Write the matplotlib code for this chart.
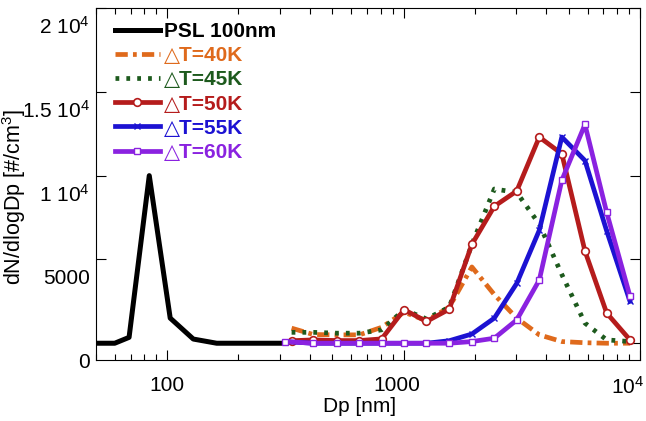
import matplotlib
matplotlib.use("Agg")
import matplotlib.pyplot as plt
from matplotlib.transforms import ScaledTranslation

plt.rcParams['font.family'] = ['Liberation Sans', 'DejaVu Sans']
plt.rcParams['mathtext.fontset'] = 'custom'
plt.rcParams['mathtext.rm'] = 'Liberation Sans'
plt.rcParams['mathtext.default'] = 'regular'

# PSL 100 nm calibration
dp_psl = [50, 60, 69, 84, 103, 129, 162, 200, 250, 315]
n_psl = [0, 0, 350, 10000, 1500, 250, 0, 0, 0, 0]

# size bins of the delta T scans
dp_hi = [415, 521, 650, 808, 1005, 1250, 1560, 1945, 2420, 3010, 3750, 4670, 5850, 7230, 9070]
dp_a = [336] + dp_hi
dp_b = [315] + dp_hi

n_40 = [900, 520, 500, 500, 950, 1850, 1350, 2150, 4550, 2900, 1500, 500, 100, 30, 0, 0]
n_45 = [650, 650, 600, 600, 800, 2000, 1450, 2150, 5900, 9200, 9000, 7100, 4100, 1200, 200, 100]
n_50 = [150, 200, 160, 160, 260, 2000, 1300, 2030, 5900, 8170, 9080, 12300, 11300, 5500, 1800, 200]
n_55 = [100, 0, 0, 0, 0, 0, 0, 150, 550, 1500, 3570, 6740, 12300, 10900, 6700, 2500]
n_60 = [100, 0, 0, 0, 0, 0, 0, 0, 100, 300, 1390, 3770, 9720, 13050, 7800, 2800]

labels = ['PSL 100nm', '△T=40K', '△T=45K', '△T=50K', '△T=55K', '△T=60K']
colors = ['black', '#df6a1c', '#1d5a1d', '#b51c1c', '#1c12d2', '#8a22e0']

yticks = [0, 5000, 10000, 15000, 20000]
ytick_labels = ['0', '5000', '1 10$^4$', '1.5 10$^4$', '2 10$^4$']
xticks = [100, 1000, 10000]
xtick_labels = ['100', '1000', '10$^4$']

fig = plt.figure(figsize=(6.46, 4.21), dpi=100)
ax = fig.add_axes([96 / 646, 1 - 360 / 421, 544 / 646, 352 / 421])

lw = 3.4
ax.plot(dp_psl, n_psl, color=colors[0], lw=3.6, label=labels[0])
ax.plot(dp_a, n_40, color=colors[1], lw=lw, dashes=(2.6, 1.1, 0.8, 1.1), label=labels[1])
ax.plot(dp_a, n_45, color=colors[2], lw=lw, dashes=(0.8, 1.5), label=labels[2])
ax.plot(dp_a, n_50, color=colors[3], lw=lw, marker='o', ms=5.5, mfc='white',
        mec=colors[3], mew=1.2, label=labels[3])
ax.plot(dp_b, n_55, color=colors[4], lw=lw, marker='x', ms=4, mew=1.0, label=labels[4])
ax.plot(dp_b, n_60, color=colors[5], lw=lw, marker='s', ms=4.5, mfc='white',
        mec=colors[5], mew=1.0, label=labels[5])

ax.set_xscale('log')
ax.set_xlim(50, 10000)
ax.set_ylim(-1000, 20000)

ax.set_xticks(xticks)
ax.set_xticklabels(xtick_labels, fontsize=15)
ax.set_yticks(yticks)
ax.set_yticklabels(ytick_labels, fontsize=15)
ax.tick_params(which='both', direction='in', top=True, right=True, width=0.8)
ax.tick_params(which='major', length=7)
ax.tick_params(which='minor', length=4)
ax.tick_params(axis='x', pad=11.5)
ax.tick_params(axis='y', pad=4.5)
ax.xaxis.set_minor_locator(matplotlib.ticker.LogLocator(subs=range(2, 10)))
ax.xaxis.set_minor_formatter(matplotlib.ticker.NullFormatter())

# tick labels sit a little off their ticks in the original
for lab in ax.get_yticklabels():
    lab.set_transform(lab.get_transform() + ScaledTranslation(0, -17 / 100, fig.dpi_scale_trans))
for lab, dx in zip(ax.get_xticklabels(), [0, -7, -12]):
    lab.set_transform(lab.get_transform() + ScaledTranslation(dx / 100, 0, fig.dpi_scale_trans))

for s in ax.spines.values():
    s.set_linewidth(0.8)

ax.set_xlabel('Dp [nm]', fontsize=15)
ax.xaxis.set_label_coords(0.485, -0.105)
ax.set_ylabel('dN/dlogDp [#/cm$^3$]', fontsize=15.5)
ax.yaxis.set_label_coords(-0.125, 0.462)

leg = ax.legend(loc='upper left', bbox_to_anchor=(0.012, 0.996), frameon=False,
                prop={'weight': 'bold', 'size': 15}, handlelength=2.15,
                handletextpad=0.22, labelspacing=0.25, numpoints=1, borderaxespad=0.2)
for txt, c in zip(leg.get_texts(), colors):
    txt.set_color(c)

fig.savefig('out.png', dpi=100)
